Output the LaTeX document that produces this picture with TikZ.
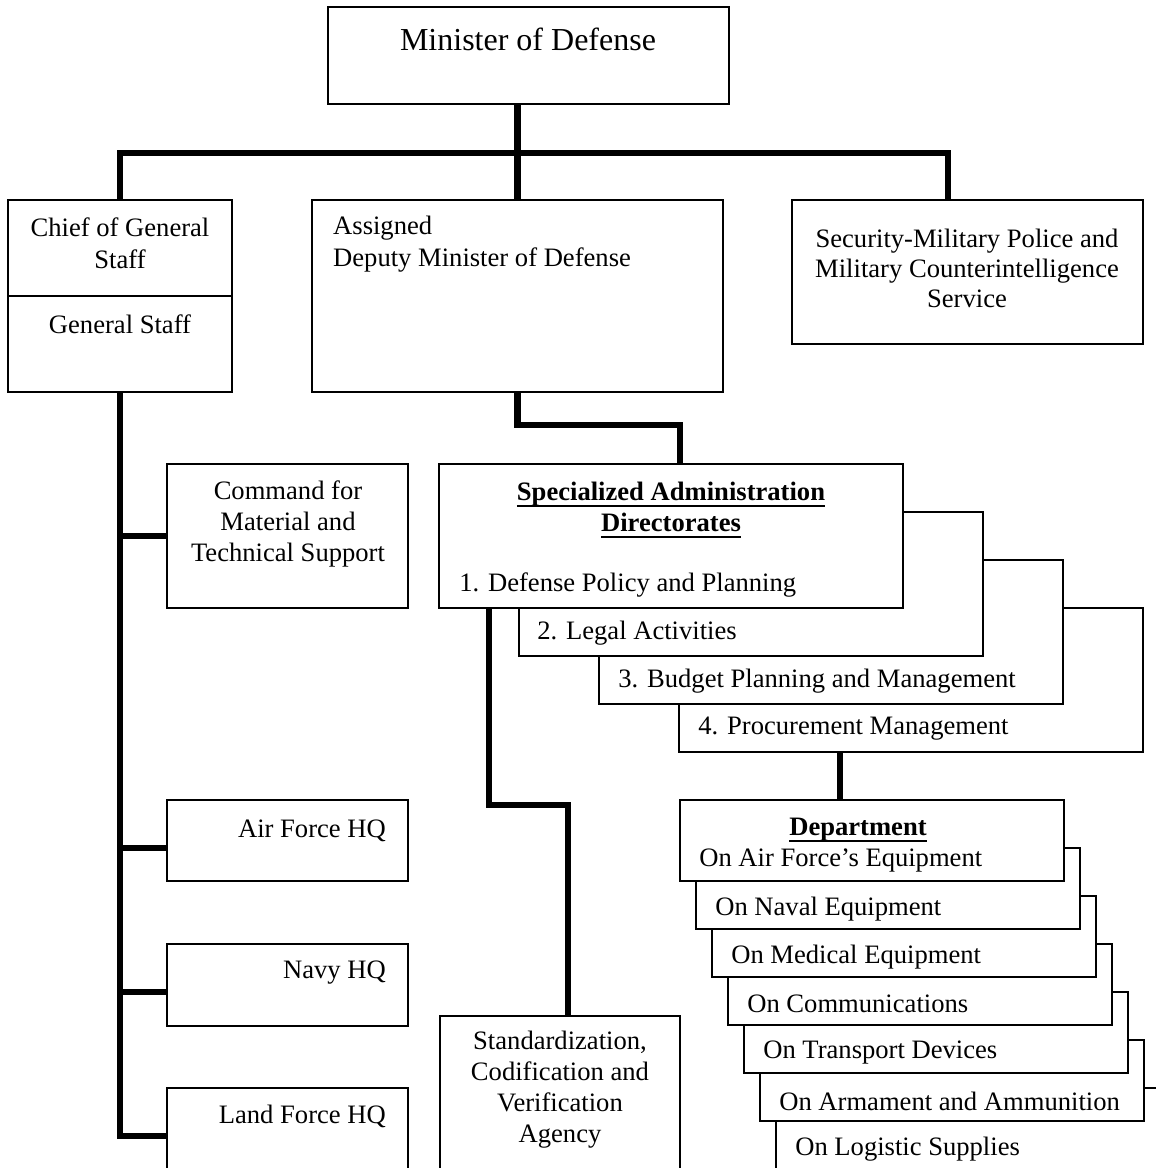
\documentclass[tikz,border=0pt]{standalone}
\usepackage{fontspec}
\setmainfont{Liberation Serif}
\usetikzlibrary{positioning}
\tikzstyle{box}=[draw,rectangle,line width=1.8pt,fill=white,inner sep=0pt]
\tikzstyle{txt}=[inner sep=0pt,font={\fontsize{26.6}{31}\selectfont}]
\tikzstyle{link}=[line width=6.5pt]
\newcommand{\ulbox}[1]{\leavevmode\setbox0\hbox{#1}\vtop{\copy0\kern-\dp0\kern4pt\hrule height 1.8pt}}

\begin{document}
\begin{tikzpicture}[x=1pt, y=-1pt, node distance=48pt and 80pt, on grid]
  \tikzstyle{deptbox}=[box, minimum width=384pt, minimum height=81pt]
  \tikzstyle{sadbox}=[box, minimum width=464pt, minimum height=144pt]
  \tikzstyle{hqbox}=[box, minimum width=241pt]

  \useasboundingbox (0,0) rectangle (1156,1168);
  \clip (0,0) rectangle (1156,1168);

  % top level
  \node[box, minimum width=401pt, minimum height=97pt] (mod) at (528.5,55.5) {};
  \node[txt, font={\fontsize{32}{38}\selectfont}] (modname) at (528,39) {Minister of Defense};

  \node[box, minimum width=224pt, minimum height=192pt] (cgs) at (120,296) {};
  \draw[line width=1.8pt] (cgs.west) -- (cgs.east);
  \node[txt, align=center, font={\fontsize{26.6}{32}\selectfont}] (cgsname) at (120,243) {Chief of General\\Staff};
  \node[txt] (gs) at (120,324) {General Staff};

  \node[box, minimum width=411pt, minimum height=192pt] (dep) at (517.5,296) {};
  \node[txt, align=left, anchor=west, font={\fontsize{26.6}{32}\selectfont}] (depname) at (333,244) {Assigned\\Deputy Minister of Defense};

  \node[box, minimum width=351pt, minimum height=144pt] (sec) at (967.5,272) {};
  \node[txt, align=center, font={\fontsize{26.6}{30}\selectfont}] (secname) at (967,268) {Security-Military Police and\\Military Counterintelligence\\Service};

  % left column
  \node[hqbox, minimum height=144pt] (cmd) at (287.5,536) {};
  \node[txt, align=center] (cmdname) at (288,524) {Command for\\Material and\\Technical Support};
  \node[hqbox, minimum height=81pt] (af) at (287.5,840.5) {};
  \node[txt, anchor=east] (afname) at (386,831) {Air Force HQ};
  \node[hqbox, minimum height=82pt] (navy) at (287.5,985) {};
  \node[txt, anchor=east] (navyname) at (386,973) {Navy HQ};
  \node[hqbox, minimum height=96pt] (land) at (287.5,1136) {};
  \node[txt, anchor=east] (landname) at (386,1116) {Land Force HQ};

  \node[box, minimum width=240pt, minimum height=184pt] (std) at (560,1108) {};
  \node[txt, align=center] (stdname) at (560,1090) {Standardization,\\Codification and\\Verification\\Agency};

  % directorates
  \node[sadbox] (sad4) at (911,680) {};
  \node[sadbox, above left=of sad4] (sad3) {};
  \node[sadbox, above left=of sad3] (sad2) {};
  \node[sadbox, above left=of sad2] (sad1) {};
  \node[txt, align=center, font={\bfseries\fontsize{26.6}{31}\selectfont}] (sadname) at (671,510) {\ulbox{Specialized Administration}\\\ulbox{Directorates}};
  \node[txt, anchor=west] (sad1txt) at ([xshift=21pt,yshift=24pt]sad1.south west) {1. Defense Policy and Planning};
  \node[txt, anchor=west] (sad2txt) at ([xshift=19pt,yshift=24pt]sad2.south west) {2. Legal Activities};
  \node[txt, anchor=west] (sad3txt) at ([xshift=20pt,yshift=24pt]sad3.south west) {3. Budget Planning and Management};
  \node[txt, anchor=west] (sad4txt) at ([xshift=20pt,yshift=24pt]sad4.south west) {4. Procurement Management};

  % departments
  \node[deptbox] (dept7) at (968,1128.5) {};
  \node[deptbox, above left=48pt and 16pt of dept7] (dept6) {};
  \node[deptbox, above left=48pt and 16pt of dept6] (dept5) {};
  \node[deptbox, above left=48pt and 16pt of dept5] (dept4) {};
  \node[deptbox, above left=48pt and 16pt of dept4] (dept3) {};
  \node[deptbox, above left=48pt and 16pt of dept3] (dept2) {};
  \node[deptbox, above left=48pt and 16pt of dept2] (dept1) {};
  \node[txt, font={\bfseries\fontsize{26.6}{31}\selectfont}] (deptname) at (858,830) {\ulbox{Department}};
  \node[txt, anchor=west] (d1txt) at ([xshift=20pt,yshift=21pt]dept1.south west) {On Air Force’s Equipment};
  \node[txt, anchor=west] (d2txt) at ([xshift=20pt,yshift=21pt]dept2.south west) {On Naval Equipment};
  \node[txt, anchor=west] (d3txt) at ([xshift=20pt,yshift=21pt]dept3.south west) {On Medical Equipment};
  \node[txt, anchor=west] (d4txt) at ([xshift=20pt,yshift=22pt]dept4.south west) {On Communications};
  \node[txt, anchor=west] (d5txt) at ([xshift=20pt,yshift=21pt]dept5.south west) {On Transport Devices};
  \node[txt, anchor=west] (d6txt) at ([xshift=20pt,yshift=21pt]dept6.south west) {On Armament and Ammunition};
  \node[txt, anchor=west] (d7txt) at ([xshift=20pt,yshift=21pt]dept7.south west) {On Logistic Supplies};

  % connectors
  \coordinate (bus) at (519,153);
  \coordinate (secin) at (948,200);
  \coordinate (j1) at (680,425);
  \coordinate (j2) at (489,805);
  \coordinate (j3) at (568,805);
  \coordinate (j4) at (840,751);
  \coordinate (afin) at ([yshift=-7.5pt]af.west);
  \coordinate (navyin) at ([yshift=-7pt]navy.west);

  \draw[link] (mod.south -| dep.north) -- (dep.north);
  \draw[link] (cgs.north) |- (secin |- bus) -- (secin);
  \draw[link] (cgs.south) |- (land.west);
  \draw[link] (cgs.south |- cmd.west) -- (cmd.west);
  \draw[link] (cgs.south |- afin) -- (afin);
  \draw[link] (cgs.south |- navyin) -- (navyin);
  \draw[link] (dep.south) |- (j1) -- (j1 |- sad1.north);
  \draw[link] (j2 |- sad1.south) -- (j2) -- (j3) -- (j3 |- std.north);
  \draw[link] (j4 |- sad4.south) -- (j4 |- dept1.north);
\end{tikzpicture}
\end{document}
